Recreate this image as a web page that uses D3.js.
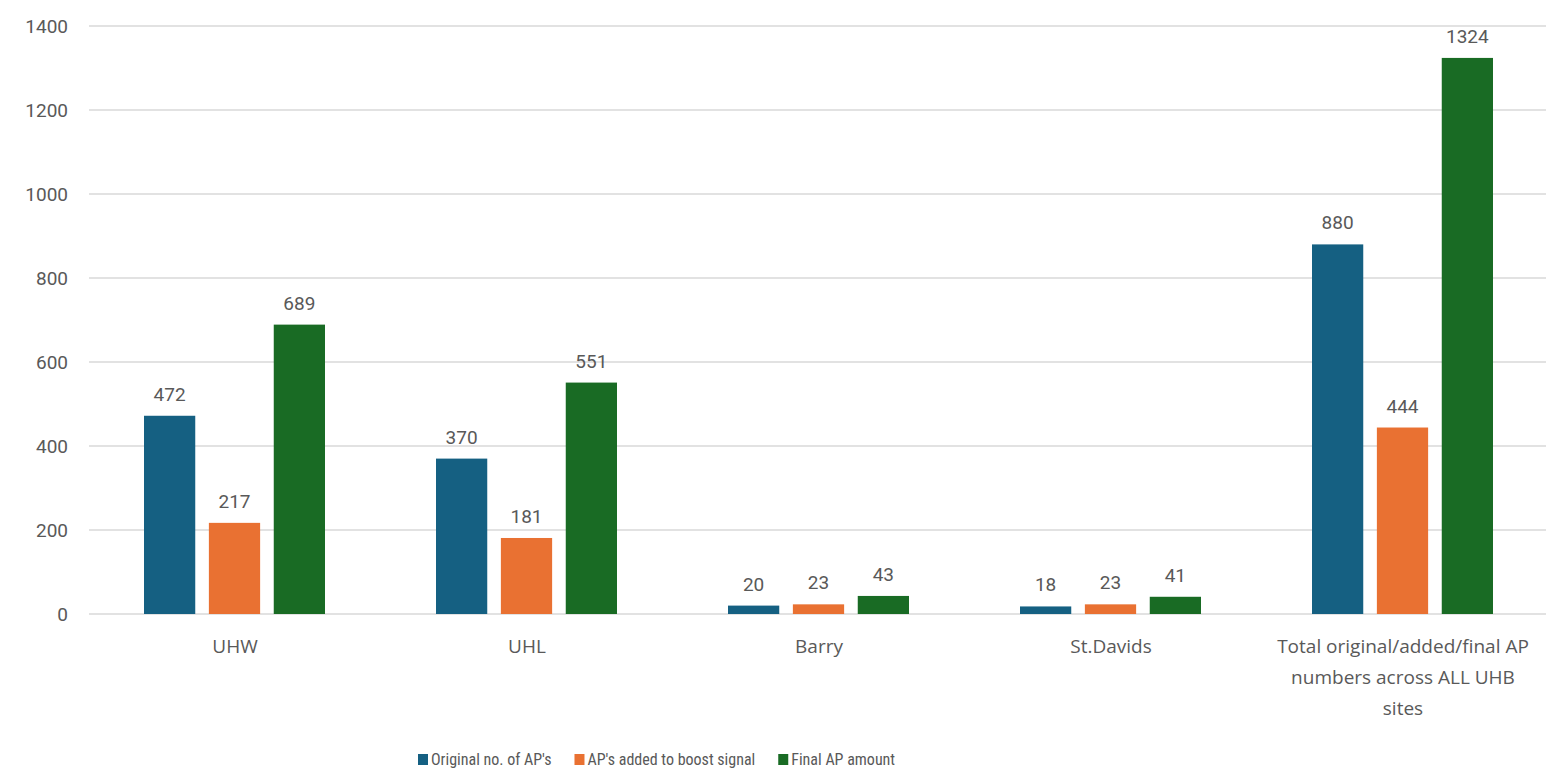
<!DOCTYPE html>
<html><head><meta charset="utf-8">
<script src="https://cdn.jsdelivr.net/npm/d3@7"></script>
<style>body{margin:0;background:#fff;} svg{display:block;}</style>
</head><body>
<svg id="c" width="1546" height="776"></svg>
<script>
const categories = ["UHW", "UHL", "Barry", "St.Davids", "Total original/added/final AP numbers across ALL UHB sites"];
const seriesNames = ["Original no. of AP's", "AP's added to boost signal", "Final AP amount"];
const originalAPs = [472, 370, 20, 18, 880];
const addedAPs = [217, 181, 23, 23, 444];
const finalAPs = [689, 551, 43, 41, 1324];
const yTicks = [0, 200, 400, 600, 800, 1000, 1200, 1400];
const colors = ["#156082", "#E97132", "#196B24"];

const series = [originalAPs, addedAPs, finalAPs];
const svg = d3.select("#c");
const textColor = "#595959";
const font = "Roboto, 'Liberation Sans', sans-serif";

const x0 = d3.scaleBand().domain(categories).range([89, 1549]).paddingInner(0).paddingOuter(0);
const x1 = d3.scaleBand().domain(d3.range(3)).range([55, 236]).paddingInner(0.21).paddingOuter(0);
const y = d3.scaleLinear().domain([0, 1400]).range([614, 26]);

// gridlines
svg.append("g").selectAll("line").data(yTicks).join("line")
  .attr("x1", 89).attr("x2", 1546)
  .attr("y1", d => y(d)).attr("y2", d => y(d))
  .attr("stroke", "#D9D9D9").attr("stroke-width", 1.3);

// y axis labels
const yAxis = d3.axisLeft(y).tickValues(yTicks).tickFormat(d3.format("d")).tickSize(0).tickPadding(0);
const ya = svg.append("g").attr("transform", "translate(68,0)").call(yAxis);
ya.select(".domain").remove();
ya.selectAll("text").attr("font-family", font).attr("font-size", 19).attr("fill", textColor);

// bars
const groups = svg.append("g").selectAll("g").data(categories).join("g")
  .attr("transform", d => `translate(${x0(d)},0)`);
groups.selectAll("rect").data((d, i) => series.map((s, k) => ({k, v: s[i]}))).join("rect")
  .attr("x", d => x1(d.k)).attr("width", x1.bandwidth())
  .attr("y", d => y(d.v)).attr("height", d => y(0) - y(d.v))
  .attr("fill", d => colors[d.k]);
groups.selectAll("text.val").data((d, i) => series.map((s, k) => ({k, v: s[i]}))).join("text")
  .attr("class", "val")
  .attr("x", d => x1(d.k) + x1.bandwidth() / 2).attr("y", d => y(d.v) - 15)
  .attr("text-anchor", "middle").attr("font-family", font).attr("font-size", 19)
  .attr("fill", textColor).text(d => d.v);

// category labels with wrapping
const catFont = "'Open Sans', Lato, sans-serif";
svg.append("g").selectAll("text").data(categories).join("text")
  .attr("x", d => x0(d) + x0.bandwidth() / 2).attr("y", 653)
  .attr("text-anchor", "middle").attr("font-family", catFont).attr("font-size", 19)
  .attr("fill", textColor)
  .each(function(d) {
    const t = d3.select(this);
    const words = d.split(" ");
    let line = [], lines = [];
    const tmp = t.append("tspan");
    for (const w of words) {
      line.push(w);
      tmp.text(line.join(" "));
      if (tmp.node().getComputedTextLength() > 252 && line.length > 1) {
        line.pop(); lines.push(line.join(" ")); line = [w];
      }
    }
    lines.push(line.join(" "));
    tmp.remove();
    lines.forEach((l, i) => t.append("tspan").attr("x", x0(d) + x0.bandwidth() / 2)
      .attr("dy", i === 0 ? 0 : 31).text(l));
  });

// legend
const leg = svg.append("g");
let lx = 418;
seriesNames.forEach((n, k) => {
  leg.append("rect").attr("x", lx).attr("y", 754).attr("width", 10).attr("height", 11).attr("fill", colors[k]);
  const t = leg.append("text").attr("x", lx + 13).attr("y", 765)
    .attr("font-family", "'Liberation Sans Narrow', 'Roboto Condensed', sans-serif").attr("font-size", 16)
    .attr("fill", textColor).text(n);
  lx += 13 + t.node().getComputedTextLength() + 23;
});
</script>
</body></html>
